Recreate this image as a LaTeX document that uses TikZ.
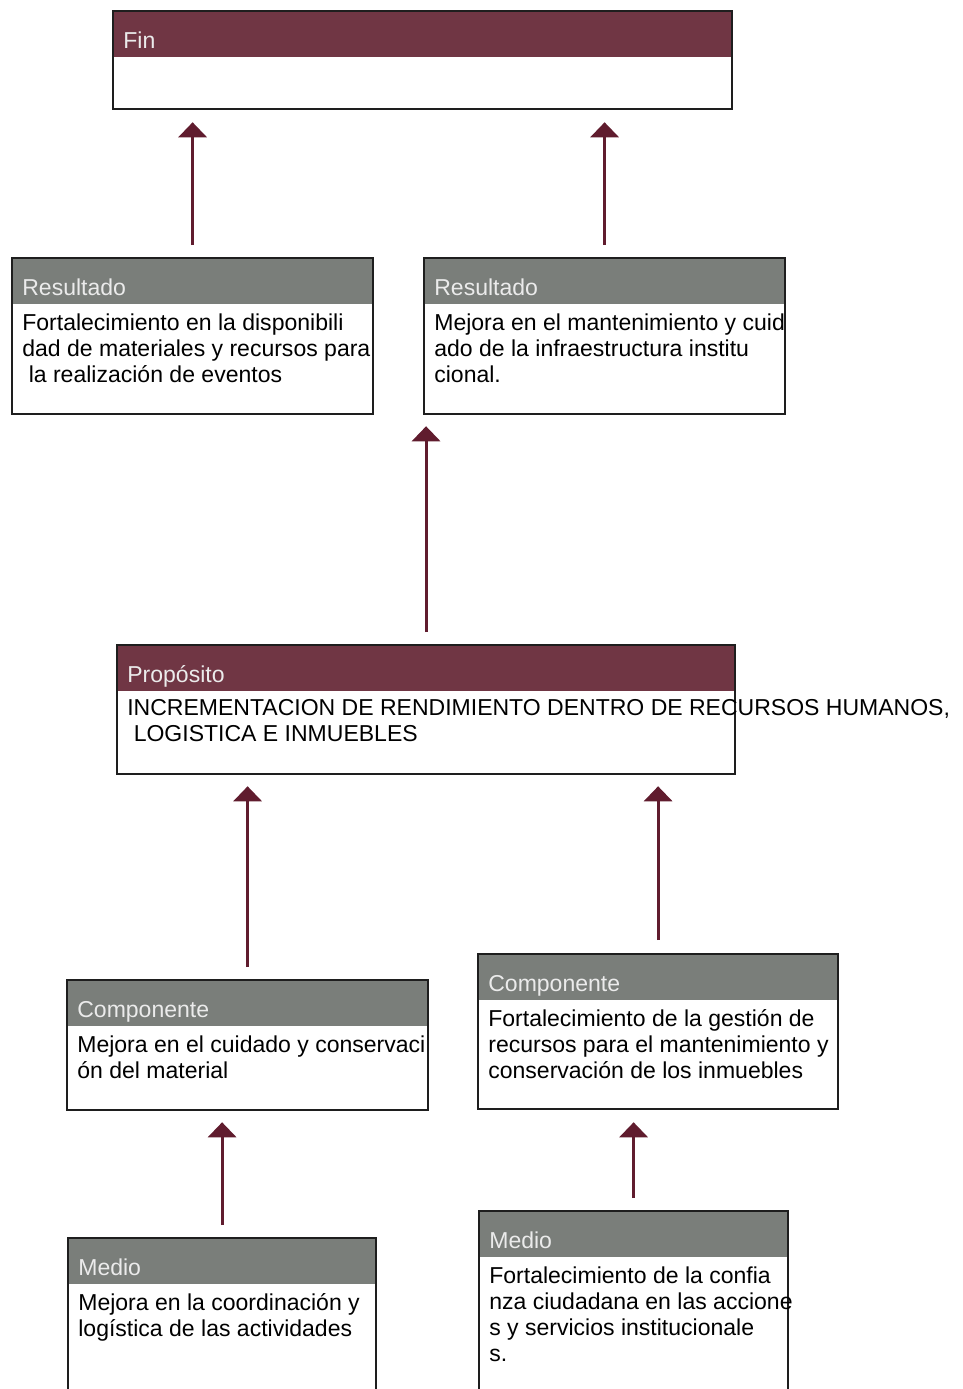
\documentclass[tikz,border=0pt]{standalone}
\usepackage{fontspec}
\setmainfont{Liberation Sans}
\usetikzlibrary{arrows.meta, positioning, calc}
\definecolor{cabrojo}{RGB}{112,54,68}
\definecolor{cabgris}{RGB}{122,126,122}
\definecolor{flechacol}{RGB}{96,28,46}
\definecolor{borde}{RGB}{30,30,30}
\tikzset{
  caja/.style={draw=borde, line width=1.3pt, fill=white, anchor=north west, inner sep=0pt,
    path picture={\fill[#1] (path picture bounding box.north west) rectangle ([yshift=-0.92cm]path picture bounding box.north east);}},
  titulo/.style={anchor=base west, inner sep=0pt, text=white!92!black, font=\fontsize{13.1pt}{14.8pt}\selectfont},
  texto/.style={anchor=north west, inner sep=0pt, align=left, font=\fontsize{13.1pt}{14.8pt}\selectfont},
  flecha/.style={draw=flechacol, line width=1.8pt, -{Triangle[width=0.56cm,length=0.3cm]}},
}

\begin{document}
\begin{tikzpicture}[x=0.02cm, y=-0.02cm]
\useasboundingbox (0,0) rectangle (963,1389);
\clip (0,0) rectangle (963,1389);

% cajas
\node[caja=cabrojo, minimum width=12.38cm, minimum height=1.96cm] (fin) at (112,10) {};
\node[caja=cabgris, minimum width=7.22cm, minimum height=3.12cm] (res1) at (11,257) {};
\node[caja=cabgris, minimum width=7.22cm, minimum height=3.12cm] (res2) at (423,257) {};
\node[caja=cabrojo, minimum width=12.36cm, minimum height=2.58cm] (prop) at (116,644) {};
\node[caja=cabgris, minimum width=7.22cm, minimum height=2.6cm] (comp1) at (66,979) {};
\node[caja=cabgris, minimum width=7.2cm, minimum height=3.1cm] (comp2) at (477,953) {};
\node[caja=cabgris, minimum width=6.16cm, minimum height=3.3cm] (medio1) at (67,1237) {};
\node[caja=cabgris, minimum width=6.18cm, minimum height=3.84cm] (medio2) at (478,1210) {};

% titulos
\node[titulo] (fint) at ([xshift=0.22cm, yshift=-0.77cm]fin.north west) {Fin};
\node[titulo] (res1t) at ([xshift=0.22cm, yshift=-0.77cm]res1.north west) {Resultado};
\node[titulo] (res2t) at ([xshift=0.22cm, yshift=-0.77cm]res2.north west) {Resultado};
\node[titulo] (propt) at ([xshift=0.22cm, yshift=-0.77cm]prop.north west) {Propósito};
\node[titulo] (comp1t) at ([xshift=0.22cm, yshift=-0.77cm]comp1.north west) {Componente};
\node[titulo] (comp2t) at ([xshift=0.22cm, yshift=-0.77cm]comp2.north west) {Componente};
\node[titulo] (medio1t) at ([xshift=0.22cm, yshift=-0.77cm]medio1.north west) {Medio};
\node[titulo] (medio2t) at ([xshift=0.22cm, yshift=-0.77cm]medio2.north west) {Medio};

% textos
\node[texto] (res1x) at ([xshift=0.22cm, yshift=-1.13cm]res1.north west)
  {Fortalecimiento en la disponibili\\dad de materiales y recursos para\\\hspace*{0.28em}la realización de eventos};
\node[texto] (res2x) at ([xshift=0.22cm, yshift=-1.13cm]res2.north west)
  {Mejora en el mantenimiento y cuid\\ado de la infraestructura institu\\cional.};
\node[texto] (propx) at ([xshift=0.22cm, yshift=-1.1cm]prop.north west)
  {INCREMENTACION DE RENDIMIENTO DENTRO DE RECURSOS HUMANOS,\\\hspace*{0.28em}LOGISTICA E INMUEBLES};
\node[texto] (comp1x) at ([xshift=0.22cm, yshift=-1.13cm]comp1.north west)
  {Mejora en el cuidado y conservaci\\ón del material};
\node[texto] (comp2x) at ([xshift=0.22cm, yshift=-1.13cm]comp2.north west)
  {Fortalecimiento de la gestión de\\recursos para el mantenimiento y\\conservación de los inmuebles};
\node[texto] (medio1x) at ([xshift=0.22cm, yshift=-1.13cm]medio1.north west)
  {Mejora en la coordinación y\\logística de las actividades};
\node[texto] (medio2x) at ([xshift=0.22cm, yshift=-1.13cm]medio2.north west)
  {Fortalecimiento de la confia\\nza ciudadana en las accione\\s y servicios institucionale\\s.};

% flechas
\draw[flecha] ([yshift=0.24cm]res1.north) -- ([yshift=-0.24cm]res1.north |- fin.south);
\draw[flecha] ([yshift=0.24cm]res2.north) -- ([yshift=-0.24cm]res2.north |- fin.south);
\draw[flecha] ([yshift=0.24cm]prop.north) -- ([yshift=-0.22cm]prop.north |- res2.south);
\draw[flecha] ([yshift=0.24cm]comp1.north) -- ([yshift=-0.22cm]comp1.north |- prop.south);
\draw[flecha] ([yshift=0.26cm]comp2.north) -- ([yshift=-0.22cm]comp2.north |- prop.south);
\draw[flecha] ([yshift=0.24cm]medio1.north) -- ([yshift=-0.22cm]medio1.north |- comp1.south);
\draw[flecha] ([yshift=0.24cm]medio2.north) -- ([yshift=-0.24cm]medio2.north |- comp2.south);
\end{tikzpicture}
\end{document}
